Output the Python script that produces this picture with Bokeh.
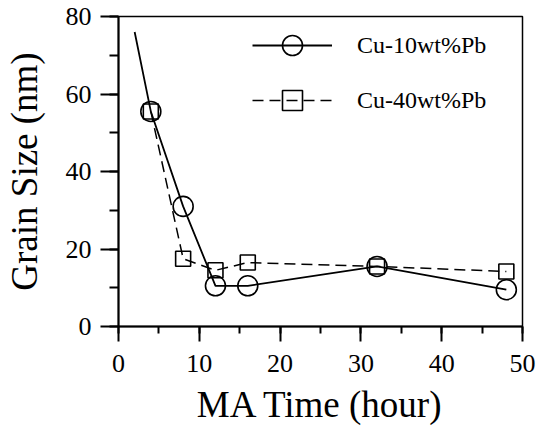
from bokeh.plotting import figure
from bokeh.models import Range1d, SingleIntervalTicker, Legend, LegendItem
from bokeh.embed import file_html
from bokeh.resources import INLINE

# Data
hours_10 = [2, 4, 8, 12, 16, 32, 48]
size_10 = [76, 55.5, 31, 10.5, 10.5, 15.5, 9.5]
hours_40 = [4, 8, 12, 16, 32, 48]
size_40 = [55.5, 17.5, 14.5, 16.5, 15.5, 14.2]
label_10 = "Cu-10wt%Pb"
label_40 = "Cu-40wt%Pb"
x_title = "MA Time (hour)"
y_title = "Grain Size (nm)"

FONT = "Liberation Serif"

p = figure(frame_width=404, frame_height=310, output_backend="svg",
           toolbar_location=None,
           x_range=Range1d(0, 50), y_range=Range1d(0, 80),
           min_border_left=116, min_border_right=16, min_border_top=16,
           min_border_bottom=0)
p.background_fill_color = "white"
p.border_fill_color = "white"
p.grid.visible = False
p.outline_line_color = "black"
p.outline_line_width = 1.5

# Axes
p.xaxis.ticker = SingleIntervalTicker(interval=10, num_minor_ticks=2)
p.yaxis.ticker = SingleIntervalTicker(interval=20, num_minor_ticks=2)
p.axis.axis_line_color = "black"
p.axis.axis_line_width = 2
p.axis.major_tick_line_color = "black"
p.axis.major_tick_line_width = 2
p.axis.minor_tick_line_color = "black"
p.axis.minor_tick_line_width = 2
p.axis.major_tick_in = 0
p.axis.minor_tick_in = 0
p.axis.major_label_text_color = "black"
p.axis.major_label_text_font = FONT
p.axis.major_label_text_font_size = "26px"
p.axis.axis_label_text_color = "black"
p.axis.axis_label_text_font = FONT
p.axis.axis_label_text_font_size = "37px"
p.axis.axis_label_text_font_style = "normal"

p.xaxis.major_tick_out = 15
p.xaxis.minor_tick_out = 7
p.xaxis.major_label_standoff = 13
p.xaxis.axis_label_standoff = 9
p.xaxis.axis_label = x_title

p.yaxis.major_tick_out = 18
p.yaxis.minor_tick_out = 9
p.yaxis.major_label_standoff = 9
p.yaxis.axis_label_standoff = 18
p.yaxis.axis_label = y_title

# Series
l10 = p.line(hours_10, size_10, line_color="black", line_width=1.8)
m10 = p.scatter(hours_10[1:], size_10[1:], marker="circle", size=20,
                fill_color=None, line_color="black", line_width=1.6)
l40 = p.line(hours_40, size_40, line_color="black", line_width=1.5,
             line_dash="11 6")
m40 = p.scatter(hours_40, size_40, marker="square", size=15,
                fill_color=None, line_color="black", line_width=1.6)

legend = Legend(items=[LegendItem(label=label_10, renderers=[l10, m10]),
                       LegendItem(label=label_40, renderers=[l40, m40])],
                location=(134, 201))
legend.glyph_width = 80
legend.glyph_height = 50
legend.spacing = 5
legend.label_standoff = 25
legend.padding = 0
legend.margin = 0
legend.border_line_color = None
legend.background_fill_alpha = 0
legend.label_text_font = FONT
legend.label_text_font_size = "24px"
legend.label_text_color = "black"
p.add_layout(legend)

open("out.html", "w").write(file_html(p, INLINE))
